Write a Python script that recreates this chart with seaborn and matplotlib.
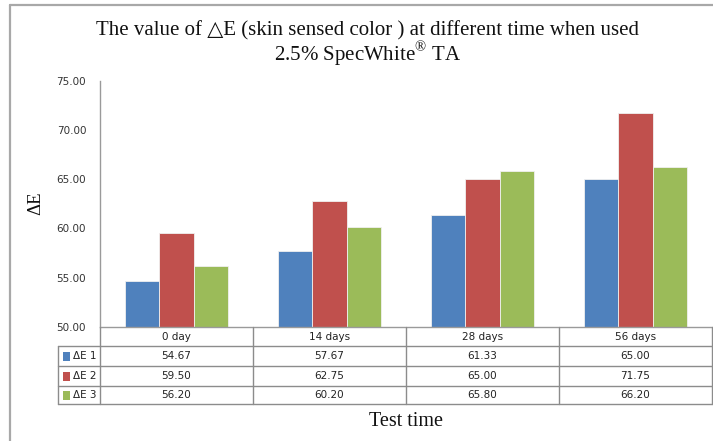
import matplotlib
matplotlib.use("Agg")
import matplotlib.pyplot as plt
from matplotlib.lines import Line2D
from matplotlib.patches import Rectangle
import seaborn as sns
import pandas as pd

# data
times = ["0 day", "14 days", "28 days", "56 days"]
series_names = ["ΔE 1", "ΔE 2", "ΔE 3"]
de1 = [54.67, 57.67, 61.33, 65.00]
de2 = [59.50, 62.75, 65.00, 71.75]
de3 = [56.20, 60.20, 65.80, 66.20]
yticks = [50, 55, 60, 65, 70, 75]
colors = ["#4F81BD", "#C0504D", "#9BBB59"]

sns.set_theme(style="white")
plt.rcParams["font.family"] = ["DejaVu Sans"]
plt.rcParams["mathtext.fontset"] = "custom"
plt.rcParams["mathtext.rm"] = "Liberation Serif"

W, H = 713, 441
fig = plt.figure(figsize=(W / 100, H / 100), dpi=100)


def fx(x):
    return x / W


def fy(y):
    return 1 - y / H


# plot area
x0, x1, ytop, ybot = 100, 712, 80.7, 327
ax = fig.add_axes([fx(x0), fy(ybot), fx(x1) - fx(x0), fy(ytop) - fy(ybot)])

values = [de1, de2, de3]
df = pd.DataFrame({
    "time": [t for s in values for t in times],
    "value": [v for s in values for v in s],
    "series": [n for n, s in zip(series_names, values) for _ in s],
})
sns.barplot(data=df, x="time", y="value", hue="series", order=times,
            hue_order=series_names, palette=colors, width=0.67,
            edgecolor="#f0f0f0", linewidth=0.6, saturation=1,
            legend=False, ax=ax)

ax.set_ylim(50, 75)
ax.set_xlim(-0.5, len(times) - 0.5)
ax.set_yticks(yticks)
ax.set_yticklabels([f"{t:.2f}" for t in yticks], fontsize=7.5, color="#333333")
ax.tick_params(axis="y", length=0, pad=10)
ax.set_xticks([])
ax.set_xlabel("")
ax.set_ylabel("")
for side in ["top", "right"]:
    ax.spines[side].set_visible(False)
for side in ["left", "bottom"]:
    ax.spines[side].set_color("#9a9a9a")
    ax.spines[side].set_linewidth(1.0)

# outer frame
frame_c = "#a8a8a8"
fig.add_artist(Line2D([fx(10), fx(10)], [fy(5), 0], color=frame_c, lw=1.6))
fig.add_artist(Line2D([fx(10), 1], [fy(5), fy(5)], color=frame_c, lw=1.6))

# title
serif = ["Liberation Serif", "DejaVu Serif"]
fig.text(fx(368), fy(31), "The value of \u25b3E (skin sensed color ) at different time when used",
         ha="center", va="center", fontsize=15, family=serif, color="#111111")
fig.text(fx(368), fy(54), "2.5% SpecWhite$^{\u00ae}$ TA",
         ha="center", va="center", fontsize=15, family=serif, color="#111111")

# axis titles
fig.text(fx(36), fy(203), "ΔE", rotation=90, ha="center", va="center",
         fontsize=13.5, family=serif, color="#111111")
fig.text(fx(406), fy(421), "Test time", ha="center", va="center",
         fontsize=14.5, family=serif, color="#111111")

# data table below the plot
line_c = "#8c8c8c"
col_w = (x1 - x0) / len(times)
col_edges = [x0 + i * col_w for i in range(len(times) + 1)]
row_edges = [327, 346, 366, 386, 404]
lab_left = 58


def hline(y, xa, xb):
    fig.add_artist(Line2D([fx(xa), fx(xb)], [fy(y), fy(y)], color=line_c, lw=1.0))


def vline(x, ya, yb):
    fig.add_artist(Line2D([fx(x), fx(x)], [fy(ya), fy(yb)], color=line_c, lw=1.0))


for y in row_edges[1:]:
    hline(y, lab_left, x1)
for x in col_edges:
    vline(x, row_edges[0], row_edges[-1])
vline(lab_left, row_edges[1], row_edges[-1])

fs = 7.5
for i, t in enumerate(times):
    cx = (col_edges[i] + col_edges[i + 1]) / 2
    fig.text(fx(cx), fy((row_edges[0] + row_edges[1]) / 2), t,
             ha="center", va="center", fontsize=fs, color="#222222")
    for r, s in enumerate(values):
        cy = (row_edges[r + 1] + row_edges[r + 2]) / 2
        fig.text(fx(cx), fy(cy), f"{s[i]:.2f}", ha="center", va="center",
                 fontsize=fs, color="#222222")

for r, (name, c) in enumerate(zip(series_names, colors)):
    cy = (row_edges[r + 1] + row_edges[r + 2]) / 2
    fig.add_artist(Rectangle((fx(63), fy(cy + 4.5)), fx(7), 9 / H,
                             facecolor=c, edgecolor="none"))
    fig.text(fx(73), fy(cy), name, ha="left", va="center",
             fontsize=fs, color="#222222")

fig.savefig("out.png", dpi=100)
